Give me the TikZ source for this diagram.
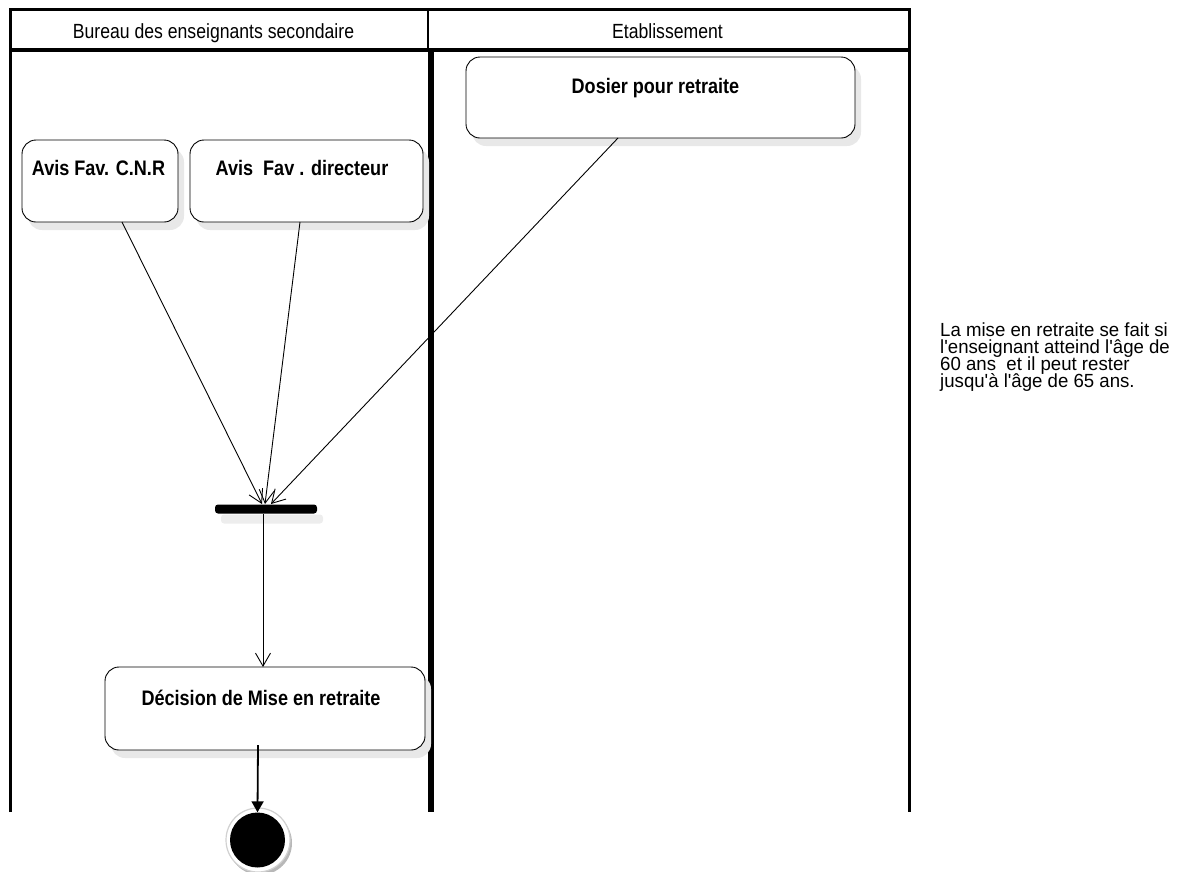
\documentclass[tikz,border=0pt]{standalone}
\usepackage{fontspec}
\setmainfont{Liberation Sans}
\newfontfamily\narrowfont[FakeStretch=0.86]{Liberation Sans}
\newfontfamily\notefont[FakeStretch=0.98]{Liberation Sans}
\newcommand\tightnote{\notefont\fontsize{19}{16.8}\selectfont\lineskiplimit=-30pt\relax\lineskip=0pt\relax}
\usetikzlibrary{arrows.meta,shadows}
\begin{document}
\begin{tikzpicture}[x=1pt,y=-1pt,
  lane/.style={line width=3pt},
  act/.style={draw,rounded corners=14pt,line width=0.9pt,fill=white,
    drop shadow={shadow xshift=6pt,shadow yshift=-8pt,fill=black!9,opacity=1}},
  acttext/.style={font=\narrowfont\bfseries\fontsize{21}{24}\selectfont,anchor=base,inner sep=0pt},
  flow/.style={line width=0.9pt,-{Straight Barb[length=13pt,width=15pt,line width=0.9pt]}},
  head/.style={font=\narrowfont\fontsize{20.5}{24}\selectfont,anchor=base,inner sep=0pt}]
\useasboundingbox (0,0) rectangle (1184,871);
% swimlanes
\draw[lane] (10,812) -- (10,9) -- (909,9) -- (909,812);
\draw[line width=4pt] (10,50) -- (909,50);
\draw[line width=2pt] (428,9) -- (428,50);
\draw[line width=6pt] (430.5,50) -- (430.5,812);
\node[head] (h1) at (213.5,38) {Bureau des enseignants secondaire};
\node[head] (h2) at (667.5,38) {Etablissement};
% activities
\node[act,minimum width=156pt,minimum height=82pt] (cnr) at (100,181) {};
\node[acttext] (cnrt) at (98.5,175) {Avis Fav. C.N.R};
\node[act,minimum width=233pt,minimum height=82pt] (dir) at (306.5,181) {};
\node[acttext] (dirt) at (302,175) {Avis\ \ Fav . directeur};
\node[act,minimum width=389pt,minimum height=81pt] (dos) at (660.5,97.5) {};
\node[acttext] (dost) at (655.5,93) {Dosier pour retraite};
\node[act,minimum width=320pt,minimum height=83pt] (dec) at (265,708.5) {};
\node[acttext] (dect) at (261,705) {Décision de Mise en retraite};
% fork
\node[fill=black,rounded corners=3pt,minimum width=102pt,minimum height=9pt,inner sep=0pt,
  drop shadow={shadow xshift=6pt,shadow yshift=-10pt,fill=black!7,opacity=1}] (fork) at (266,509) {};
% final
\node[circle,fill=white,draw=black!18,line width=1.2pt,minimum size=64pt,inner sep=0pt,
  drop shadow={shadow xshift=2pt,shadow yshift=-3pt,fill=black!28,opacity=1}] (endo) at (258,840) {};
\node[circle,fill=black,minimum size=55pt,inner sep=0pt] (endi) at (257.5,840) {};
% flows
\draw[flow] (122,222) -- (262,504);
\draw[flow] (300,222) -- (265,504);
\draw[flow] (618,138) -- (271,504);
\draw[flow] (263,514) -- (263,667);
\draw[line width=1.8pt,-{Triangle[length=11pt,width=12pt]}] (258,745) -- (endi.north);
% note
\node[anchor=base west,align=left,font=\tightnote,inner sep=0pt] (note) at (940,387)
  {La mise en retraite se fait si\\l'enseignant atteind l'âge de\\60 ans\ \ et il peut rester\\jusqu'à l'âge de 65 ans.};
\end{tikzpicture}
\end{document}
